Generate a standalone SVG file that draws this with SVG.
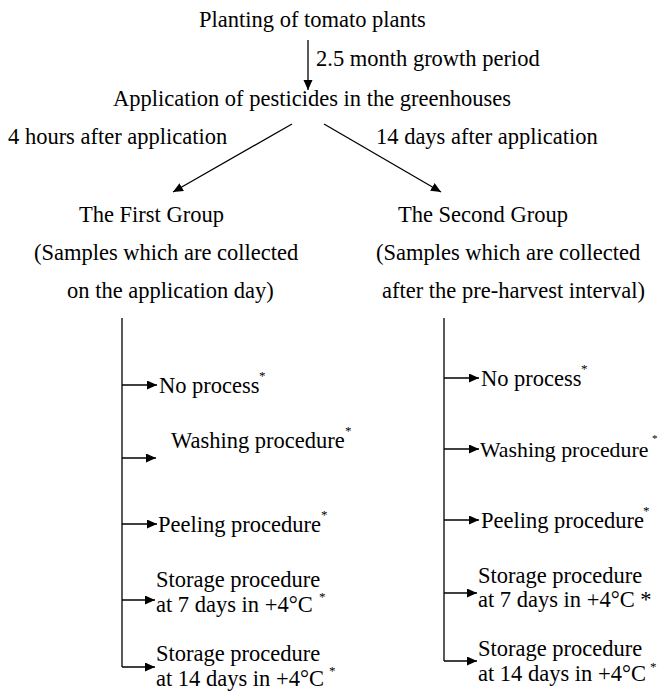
<svg xmlns="http://www.w3.org/2000/svg" width="658" height="691" viewBox="0 0 658 691">
<defs>
<marker id="ah" markerWidth="11" markerHeight="10" refX="10" refY="4.5" orient="auto" markerUnits="userSpaceOnUse">
<path d="M0,0 L10,4.5 L0,9 z" fill="#000"/>
</marker>
<style>
text{font-family:"Liberation Serif","Times New Roman",serif;font-size:22.5px;fill:#000}
.sup{font-size:13px}
.c{stroke:#000;stroke-width:1.3;fill:none}
.a{marker-end:url(#ah)}
</style>
</defs>
<rect width="658" height="691" fill="#fff"/>
<g id="connectors">
<line class="c a" x1="308" y1="40" x2="308" y2="90"/>
<line class="c a" x1="292" y1="124" x2="173" y2="192"/>
<line class="c a" x1="324" y1="124" x2="441" y2="192"/>
<line class="c" x1="122" y1="318" x2="122" y2="667"/>
<line class="c a" x1="122" y1="385" x2="157" y2="385"/>
<line class="c a" x1="122" y1="458" x2="156" y2="458"/>
<line class="c a" x1="122" y1="524" x2="157" y2="524"/>
<line class="c a" x1="122" y1="600" x2="155" y2="600"/>
<line class="c a" x1="122" y1="667" x2="155" y2="667"/>
<line class="c" x1="444" y1="318" x2="444" y2="661"/>
<line class="c a" x1="444" y1="378" x2="479" y2="378"/>
<line class="c a" x1="444" y1="449" x2="479" y2="449"/>
<line class="c a" x1="444" y1="520" x2="479" y2="520"/>
<line class="c a" x1="444" y1="593" x2="477" y2="593"/>
<line class="c a" x1="444" y1="661" x2="477" y2="661"/>
</g>
<g id="planting"><text x="199" y="27">Planting of tomato plants</text></g>
<g id="growth-label"><text x="316" y="66">2.5 month growth period</text></g>
<g id="application"><text x="113" y="106">Application of pesticides in the greenhouses</text></g>
<g id="label-4h"><text x="8" y="144">4 hours after application</text></g>
<g id="label-14d"><text x="376" y="144">14 days after application</text></g>
<g id="first-group">
<text x="79" y="222">The First Group</text>
<text x="34" y="260">(Samples which are collected</text>
<text x="67" y="298">on the application day)</text>
</g>
<g id="second-group">
<text x="398" y="222">The Second Group</text>
<text x="376" y="260">(Samples which are collected</text>
<text x="382" y="298">after the pre-harvest interval)</text>
</g>
<g id="l-noprocess"><text x="159" y="393">No process</text><text class="sup" x="259" y="380">*</text></g>
<g id="l-washing"><text x="171" y="448">Washing procedure</text><text class="sup" x="345" y="435">*</text></g>
<g id="l-peeling"><text x="158" y="532">Peeling procedure</text><text class="sup" x="321" y="519">*</text></g>
<g id="l-storage7"><text x="156" y="587">Storage procedure</text><text x="156" y="612">at 7 days in +4°C</text><text class="sup" x="319" y="601">*</text></g>
<g id="l-storage14"><text x="156" y="661">Storage procedure</text><text x="156" y="686">at 14 days in +4°C</text><text class="sup" x="329" y="675">*</text></g>
<g id="r-noprocess"><text x="481" y="386">No process</text><text class="sup" x="581" y="373">*</text></g>
<g id="r-washing"><text x="480" y="457" style="font-size:21.8px">Washing procedure</text><text class="sup" x="652" y="442" style="font-size:11px">*</text></g>
<g id="r-peeling"><text x="481" y="528">Peeling procedure</text><text class="sup" x="643" y="515">*</text></g>
<g id="r-storage7"><text x="478" y="583">Storage procedure</text><text x="478" y="607">at 7 days in +4°C *</text></g>
<g id="r-storage14"><text x="478" y="656">Storage procedure</text><text x="478" y="681">at 14 days in +4°C</text><text class="sup" x="650" y="671">*</text></g>
</svg>
